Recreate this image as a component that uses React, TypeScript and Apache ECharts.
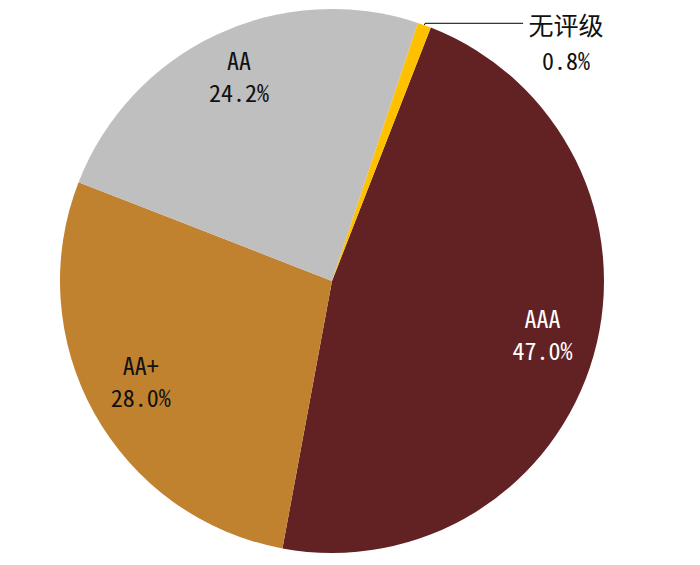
import React, { useEffect, useRef } from "react";
import * as echarts from "echarts";

const categories = ["AAA", "AA+", "AA", "无评级"];
const shares = [47.0, 28.0, 24.2, 0.8];
const colors = ["#622224", "#C0822F", "#BFBFBF", "#FFC000"];
const labelColors = ["#ffffff", "#111111", "#111111", "#111111"];

const FONT = '"Noto Sans Mono CJK SC", "Liberation Mono", monospace';

export default function App() {
  const ref = useRef<HTMLDivElement>(null);
  useEffect(() => {
    document.body.style.margin = "0";
    const chart = echarts.init(ref.current!, null, { renderer: "svg" });
    const center = [332, 281];
    const R = 272;
    const fmt = (p: any) => `${p.name}\n${Number(p.value).toFixed(1)}%`;
    chart.setOption({
      animation: false,
      backgroundColor: "#ffffff",
      series: [
        {
          type: "pie",
          center,
          radius: [0, R],
          startAngle: 68.7,
          clockwise: true,
          avoidLabelOverlap: false,
          silent: true,
          itemStyle: { borderWidth: 0 },
          data: categories.map((name, i) => ({
            name,
            value: shares[i],
            itemStyle: { color: colors[i] },
            label:
              i === 3
                ? {
                    show: true,
                    position: "outside",
                    formatter: (p: any) => `{n|${p.name}}\n{v|${Number(p.value).toFixed(1)}%}`,
                    padding: [37, 0, 0, 0],
                    distanceToLabelLine: 3,
                    rich: {
                      n: { fontFamily: FONT, fontSize: 25, color: "#111", width: 80, align: "center", height: 35, lineHeight: 35 },
                      v: { fontFamily: FONT, fontSize: 24, color: "#111", width: 80, align: "center", height: 35, lineHeight: 35 },
                    },
                  }
                : { show: false },
            labelLine:
              i === 3
                ? { show: true, length: 2, length2: 98, lineStyle: { color: "#000", width: 1 } }
                : { show: false },
          })),
        },
        {
          type: "pie",
          center,
          radius: [160, R],
          startAngle: 68.7,
          clockwise: true,
          silent: true,
          avoidLabelOverlap: false,
          itemStyle: { color: "rgba(0,0,0,0)", borderWidth: 0 },
          labelLine: { show: false },
          labelLayout: { dy: -7 },
          data: categories.map((name, i) => ({
            name,
            value: shares[i],
            label: {
              show: i !== 3,
              position: "inside",
              formatter: fmt,
              color: labelColors[i],
              fontFamily: FONT,
              fontSize: 24,
              lineHeight: 32,
            },
          })),
        },
      ],
    });
    return () => chart.dispose();
  }, []);
  return <div ref={ref} style={{ width: 700, height: 565 }} />;
}
